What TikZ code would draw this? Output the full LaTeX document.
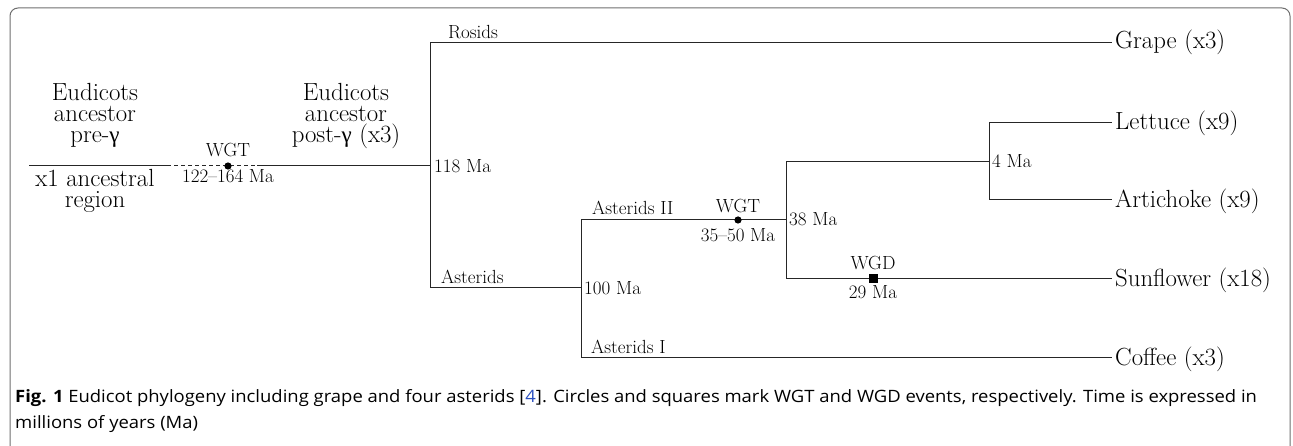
\documentclass[tikz,border=0pt]{standalone}
\usepackage{fontspec}
\newfontfamily\gk{Liberation Serif}
\newfontfamily\capfont[FakeStretch=1.085]{Open Sans}
\usetikzlibrary{calc}
\definecolor{framegray}{HTML}{6E6E6E}
\definecolor{linkblue}{HTML}{2A4FC0}
\tikzset{
  br/.style={draw=black!85, line width=1pt},
  big/.style={font=\fontsize{24.8}{21}\selectfont, inner sep=0pt},
  small/.style={font=\fontsize{19}{21}\selectfont, inner sep=0pt},
  leaf/.style={big, anchor=base west, inner xsep=3pt},
  captext/.style={anchor=base west, inner sep=0pt, font=\capfont\fontsize{17}{26}\selectfont},
}
\begin{document}
\begin{tikzpicture}[x=1pt, y=-1pt]
\useasboundingbox (0,0) rectangle (1293,446);
% frame
\draw[framegray, line width=1pt, rounded corners=8pt] (10,446) -- (10,8) -- (1290,8) -- (1290,446);
% coordinates
\coordinate (a0) at (29,166);
\coordinate (a1) at (167,166);
\coordinate (g1) at (228,166);
\coordinate (a2) at (257,166);
\coordinate (r) at (430,166);
\coordinate (rt) at (430,43);
\coordinate (rb) at (430,288);
\coordinate (s) at (581,288);
\coordinate (st) at (581,220);
\coordinate (sb) at (581,357);
\coordinate (g2) at (738,220);
\coordinate (c) at (786,220);
\coordinate (ct) at (786,162);
\coordinate (cb) at (786,279);
\coordinate (sq) at (873,279);
\coordinate (l) at (989,162);
\coordinate (lt) at (989,123);
\coordinate (lb) at (989,200);
% leaves
\node[leaf] (grape) at (1112,49) {Grape (x3)};
\node[leaf] (lettuce) at (1112,130) {Lettuce (x9)};
\node[leaf] (artichoke) at (1112,208) {Artichoke (x9)};
\node[leaf] (sunflower) at (1112,287) {Sunflower (x18)};
\node[leaf] (coffee) at (1112,365) {Coffee (x3)};
% branches
\draw[br] (a0) -- (a1);
\draw[br, dash pattern=on 4pt off 3pt] (a1) -- (a2);
\draw[br] (a2) -- (r);
\draw[br] (rt) -- (rb);
\draw[br] (rt) -- (rt -| grape.west);
\draw[br] (rb) -- (s);
\draw[br] (st) -- (sb);
\draw[br] (st) -- (c);
\draw[br] (sb) -- (sb -| coffee.west);
\draw[br] (ct) -- (cb);
\draw[br] (ct) -- (l);
\draw[br] (cb) -- (cb -| sunflower.west);
\draw[br] (lt) -- (lb);
\draw[br] (lt) -- (lt -| lettuce.west);
\draw[br] (lb) -- (lb -| artichoke.west);
% event markers
\fill[black] (g1) circle (3.6pt);
\fill[black] (g2) circle (3.6pt);
\fill[black] ($(sq)+(-4.5,-4.5)$) rectangle ($(sq)+(4.5,4.5)$);
% ancestral labels
\node[big, align=center, anchor=south] (pre) at (95,148) {Eudicots\\ancestor\\pre-{\gk\fontsize{23}{21}\selectfont γ}};
\node[big, align=center, anchor=north] (reg) at (95,169.5) {x1 ancestral\\region};
\node[big, align=center, anchor=south] (post) at (346,149) {Eudicots\\ancestor\\post-{\gk\fontsize{23}{21}\selectfont γ} (x3)};
\node[small, anchor=base] (wgt1) at (228,157) {WGT};
\node[small, anchor=base] (d1) at (228,183) {122–164 Ma};
% clade labels
\node[small, anchor=base west] (rosids) at (448,39) {Rosids};
\node[small, anchor=base west] (ast) at (441,284) {Asterids};
\node[small, anchor=base west] (ast2) at (592,215) {Asterids II};
\node[small, anchor=base west] (ast1) at (591,353) {Asterids I};
% times
\node[small, anchor=base west] (t118) at (434,173) {118 Ma};
\node[small, anchor=base west] (t100) at (584,295) {100 Ma};
\node[small, anchor=base west] (t38) at (789,226) {38 Ma};
\node[small, anchor=base west] (t4) at (992,168) {4 Ma};
\node[small, anchor=base] (wgt2) at (738,213) {WGT};
\node[small, anchor=base] (d2) at (738,242) {35–50 Ma};
\node[small, anchor=base] (wgd) at (873,270) {WGD};
\node[small, anchor=base] (d3) at (873,299) {29 Ma};
% caption
\node[captext] (cap1) at (15,402)
 {{\bfseries Fig. 1} Eudicot phylogeny including grape and four asterids [{\color{linkblue}4}]. Circles and squares mark WGT and WGD events, respectively. Time is expressed in};
\node[captext] (cap2) at (15,428) {millions of years (Ma)};
\end{tikzpicture}
\end{document}
